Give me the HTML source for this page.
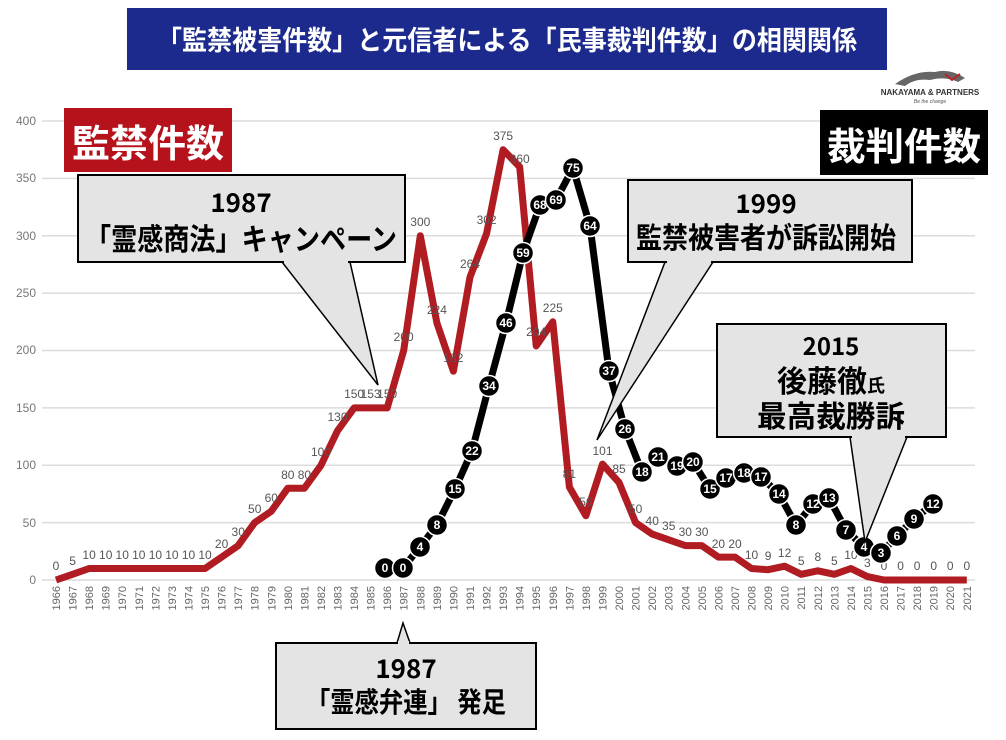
<!DOCTYPE html>
<html><head><meta charset="utf-8"><style>
html,body{margin:0;padding:0;background:#fff;}
svg{display:block;}
.t{font-family:"Liberation Sans","Noto Sans CJK JP",sans-serif;}
.j{font-family:"Noto Sans CJK JP",sans-serif;font-weight:bold;}
</style></head><body>
<svg width="1006" height="740" viewBox="0 0 1006 740" xmlns="http://www.w3.org/2000/svg">
<rect width="1006" height="740" fill="#fff"/>
<!-- title -->
<rect x="127" y="8" width="760" height="62" fill="#1b2a8c"/>
<text class="j" x="507" y="50" fill="#fff" font-size="27" text-anchor="middle" textLength="700" lengthAdjust="spacingAndGlyphs">「監禁被害件数」と元信者による「民事裁判件数」の相関関係</text>
<!-- logo -->
<path d="M895 84 Q915 70 935 72 Q950 68 965 78 L958 82 Q945 76 930 80 Q915 78 905 86 Z" fill="#666"/>
<path d="M945 74 L952 80 L960 74" stroke="#b22" stroke-width="2" fill="none"/>
<text class="t" x="930" y="95" font-size="8" fill="#333" text-anchor="middle" font-weight="bold">NAKAYAMA &amp; PARTNERS</text>
<text class="t" x="930" y="103" font-size="5" fill="#555" text-anchor="middle" font-style="italic">Be the change</text>
<!-- grid -->
<g stroke="#dcdcdc" stroke-width="1.5">
<line x1="42" y1="121" x2="975" y2="121"/><line x1="42" y1="178.4" x2="975" y2="178.4"/>
<line x1="42" y1="235.8" x2="975" y2="235.8"/><line x1="42" y1="293.1" x2="975" y2="293.1"/>
<line x1="42" y1="350.5" x2="975" y2="350.5"/><line x1="42" y1="407.9" x2="975" y2="407.9"/>
<line x1="42" y1="465.3" x2="975" y2="465.3"/><line x1="42" y1="522.6" x2="975" y2="522.6"/>
<line x1="42" y1="580" x2="975" y2="580"/>
</g>
<g class="t" font-size="12" fill="#777" text-anchor="end">
<text x="36" y="125">400</text><text x="36" y="182">350</text><text x="36" y="240">300</text>
<text x="36" y="297">250</text><text x="36" y="354">200</text><text x="36" y="412">150</text>
<text x="36" y="469">100</text><text x="36" y="527">50</text><text x="36" y="584">0</text>
</g>
<!-- x tick labels -->
<g class="t" font-size="11" fill="#666" text-anchor="end">
<text transform="translate(60,586) rotate(-90)">1966</text>
<text transform="translate(76.6,586) rotate(-90)">1967</text>
<text transform="translate(93.1,586) rotate(-90)">1968</text>
<text transform="translate(109.7,586) rotate(-90)">1969</text>
<text transform="translate(126.2,586) rotate(-90)">1970</text>
<text transform="translate(142.8,586) rotate(-90)">1971</text>
<text transform="translate(159.4,586) rotate(-90)">1972</text>
<text transform="translate(175.9,586) rotate(-90)">1973</text>
<text transform="translate(192.5,586) rotate(-90)">1974</text>
<text transform="translate(209,586) rotate(-90)">1975</text>
<text transform="translate(225.6,586) rotate(-90)">1976</text>
<text transform="translate(242.2,586) rotate(-90)">1977</text>
<text transform="translate(258.7,586) rotate(-90)">1978</text>
<text transform="translate(275.3,586) rotate(-90)">1979</text>
<text transform="translate(291.8,586) rotate(-90)">1980</text>
<text transform="translate(308.4,586) rotate(-90)">1981</text>
<text transform="translate(325,586) rotate(-90)">1982</text>
<text transform="translate(341.5,586) rotate(-90)">1983</text>
<text transform="translate(358.1,586) rotate(-90)">1984</text>
<text transform="translate(374.6,586) rotate(-90)">1985</text>
<text transform="translate(391.2,586) rotate(-90)">1986</text>
<text transform="translate(407.7,586) rotate(-90)">1987</text>
<text transform="translate(424.3,586) rotate(-90)">1988</text>
<text transform="translate(440.9,586) rotate(-90)">1989</text>
<text transform="translate(457.4,586) rotate(-90)">1990</text>
<text transform="translate(474,586) rotate(-90)">1991</text>
<text transform="translate(490.6,586) rotate(-90)">1992</text>
<text transform="translate(507.1,586) rotate(-90)">1993</text>
<text transform="translate(523.7,586) rotate(-90)">1994</text>
<text transform="translate(540.2,586) rotate(-90)">1995</text>
<text transform="translate(556.8,586) rotate(-90)">1996</text>
<text transform="translate(573.4,586) rotate(-90)">1997</text>
<text transform="translate(589.9,586) rotate(-90)">1998</text>
<text transform="translate(606.5,586) rotate(-90)">1999</text>
<text transform="translate(623,586) rotate(-90)">2000</text>
<text transform="translate(639.6,586) rotate(-90)">2001</text>
<text transform="translate(656.2,586) rotate(-90)">2002</text>
<text transform="translate(672.7,586) rotate(-90)">2003</text>
<text transform="translate(689.3,586) rotate(-90)">2004</text>
<text transform="translate(705.8,586) rotate(-90)">2005</text>
<text transform="translate(722.4,586) rotate(-90)">2006</text>
<text transform="translate(739,586) rotate(-90)">2007</text>
<text transform="translate(755.5,586) rotate(-90)">2008</text>
<text transform="translate(772.1,586) rotate(-90)">2009</text>
<text transform="translate(788.6,586) rotate(-90)">2010</text>
<text transform="translate(805.2,586) rotate(-90)">2011</text>
<text transform="translate(821.8,586) rotate(-90)">2012</text>
<text transform="translate(838.3,586) rotate(-90)">2013</text>
<text transform="translate(854.9,586) rotate(-90)">2014</text>
<text transform="translate(871.4,586) rotate(-90)">2015</text>
<text transform="translate(888,586) rotate(-90)">2016</text>
<text transform="translate(904.6,586) rotate(-90)">2017</text>
<text transform="translate(921.1,586) rotate(-90)">2018</text>
<text transform="translate(937.7,586) rotate(-90)">2019</text>
<text transform="translate(954.2,586) rotate(-90)">2020</text>
<text transform="translate(970.8,586) rotate(-90)">2021</text>
</g>
<!-- red line -->
<polyline fill="none" stroke="#b01c22" stroke-width="7" stroke-linejoin="round" points="56,580 72.6,574.3 89.1,568.5 105.7,568.5 122.2,568.5 138.8,568.5 155.4,568.5 171.9,568.5 188.5,568.5 205,568.5 221.6,557.1 238.2,545.6 254.7,522.6 271.3,511.2 287.8,488.2 304.4,488.2 321,465.3 337.5,430.8 354.1,407.9 370.6,407.9 387.2,407.9 403.7,350.5 420.3,235.8 436.9,323 453.4,371.2 470,277.1 486.6,233.5 503.1,149.7 519.7,166.9 536.2,345.9 552.8,321.8 569.4,487.1 585.9,515.7 602.5,464.1 619,482.5 635.6,522.6 652.2,534.1 668.7,539.8 685.3,545.6 701.8,545.6 718.4,557.1 735,557.1 751.5,568.5 768.1,569.7 784.6,566.2 801.2,574.3 817.8,570.8 834.3,574.3 850.9,568.5 867.4,576.6 884,580 900.6,580 917.1,580 933.7,580 950.2,580 966.8,580"/>
<g class="t" font-size="12" fill="#555" text-anchor="middle">
<text x="56" y="570">0</text><text x="72.6" y="565">5</text><text x="89.1" y="559">10</text><text x="105.7" y="559">10</text><text x="122.2" y="559">10</text><text x="138.8" y="559">10</text><text x="155.4" y="559">10</text><text x="171.9" y="559">10</text><text x="188.5" y="559">10</text><text x="205" y="559">10</text><text x="221.6" y="548">20</text><text x="238.2" y="536">30</text><text x="254.7" y="513">50</text><text x="271.3" y="502">60</text><text x="287.8" y="479">80</text><text x="304.4" y="479">80</text><text x="321" y="456">100</text><text x="337.5" y="421">130</text><text x="354.1" y="398">150</text><text x="370.6" y="398">153</text><text x="387.2" y="398">150</text><text x="403.7" y="341">200</text><text x="420.3" y="226">300</text><text x="436.9" y="314">224</text><text x="453.4" y="362">182</text><text x="470" y="268">264</text><text x="486.6" y="224">302</text><text x="503.1" y="140">375</text><text x="519.7" y="163">360</text><text x="536.2" y="336">204</text><text x="552.8" y="312">225</text><text x="569.4" y="478">81</text><text x="585.9" y="506">56</text><text x="602.5" y="455">101</text><text x="619" y="473">85</text><text x="635.6" y="513">50</text><text x="652.2" y="525">40</text><text x="668.7" y="530">35</text><text x="685.3" y="536">30</text><text x="701.8" y="536">30</text><text x="718.4" y="548">20</text><text x="735" y="548">20</text><text x="751.5" y="559">10</text><text x="768.1" y="560">9</text><text x="784.6" y="557">12</text><text x="801.2" y="565">5</text><text x="817.8" y="561">8</text><text x="834.3" y="565">5</text><text x="850.9" y="559">10</text><text x="867.4" y="567">3</text><text x="884" y="570">0</text><text x="900.6" y="570">0</text><text x="917.1" y="570">0</text><text x="933.7" y="570">0</text><text x="950.2" y="570">0</text><text x="966.8" y="570">0</text>
</g>
<!-- black line -->
<polyline fill="none" stroke="#000" stroke-width="7" stroke-linejoin="round" points="385,568 403,568 420,547 437,525 455,489 472,451 489,386 506,323 523,253 540,205 556,200 573,168 590,226 609,371 625,429 642,472 658,457 677,466 693,462 710,489 726,478 744,473 761,477 779,494 796,525 813,504 829,498 846,530 864,547 881,553 897,536 914,519 933,504"/>
<g fill="#000" stroke="#fff" stroke-width="1.5">
<circle cx="385" cy="568" r="10.5"/><circle cx="403" cy="568" r="10.5"/><circle cx="420" cy="547" r="10.5"/><circle cx="437" cy="525" r="10.5"/><circle cx="455" cy="489" r="10.5"/><circle cx="472" cy="451" r="10.5"/><circle cx="489" cy="386" r="10.5"/><circle cx="506" cy="323" r="10.5"/><circle cx="523" cy="253" r="10.5"/><circle cx="540" cy="205" r="10.5"/><circle cx="556" cy="200" r="10.5"/><circle cx="573" cy="168" r="10.5"/><circle cx="590" cy="226" r="10.5"/><circle cx="609" cy="371" r="10.5"/><circle cx="625" cy="429" r="10.5"/><circle cx="642" cy="472" r="10.5"/><circle cx="658" cy="457" r="10.5"/><circle cx="677" cy="466" r="10.5"/><circle cx="693" cy="462" r="10.5"/><circle cx="710" cy="489" r="10.5"/><circle cx="726" cy="478" r="10.5"/><circle cx="744" cy="473" r="10.5"/><circle cx="761" cy="477" r="10.5"/><circle cx="779" cy="494" r="10.5"/><circle cx="796" cy="525" r="10.5"/><circle cx="813" cy="504" r="10.5"/><circle cx="829" cy="498" r="10.5"/><circle cx="846" cy="530" r="10.5"/><circle cx="864" cy="547" r="10.5"/><circle cx="881" cy="553" r="10.5"/><circle cx="897" cy="536" r="10.5"/><circle cx="914" cy="519" r="10.5"/><circle cx="933" cy="504" r="10.5"/>
</g>
<g class="t" font-size="12" font-weight="bold" fill="#fff" text-anchor="middle">
<text x="385" y="572">0</text><text x="403" y="572">0</text><text x="420" y="551">4</text><text x="437" y="529">8</text><text x="455" y="493">15</text><text x="472" y="455">22</text><text x="489" y="390">34</text><text x="506" y="327">46</text><text x="523" y="257">59</text><text x="540" y="209">68</text><text x="556" y="204">69</text><text x="573" y="172">75</text><text x="590" y="230">64</text><text x="609" y="375">37</text><text x="625" y="433">26</text><text x="642" y="476">18</text><text x="658" y="461">21</text><text x="677" y="470">19</text><text x="693" y="466">20</text><text x="710" y="493">15</text><text x="726" y="482">17</text><text x="744" y="477">18</text><text x="761" y="481">17</text><text x="779" y="498">14</text><text x="796" y="529">8</text><text x="813" y="508">12</text><text x="829" y="502">13</text><text x="846" y="534">7</text><text x="864" y="551">4</text><text x="881" y="557">3</text><text x="897" y="540">6</text><text x="914" y="523">9</text><text x="933" y="508">12</text>
</g>
<!-- legend boxes -->
<rect x="64" y="108" width="168" height="64" fill="#b5121b"/>
<text class="j" x="148" y="157" fill="#fff" font-size="38" text-anchor="middle" textLength="152" lengthAdjust="spacingAndGlyphs">監禁件数</text>
<rect x="820" y="110" width="168" height="65" fill="#000"/>
<text class="j" x="904" y="160" fill="#fff" font-size="38" text-anchor="middle" textLength="154" lengthAdjust="spacingAndGlyphs">裁判件数</text>
<!-- callout 1 -->
<polygon points="282,262 350,262 378,385" fill="#e4e4e4" stroke="#000" stroke-width="1.5"/>
<rect x="78" y="175" width="327" height="87" fill="#e4e4e4" stroke="#000" stroke-width="2"/>
<rect x="284" y="259" width="64" height="4" fill="#e4e4e4"/>
<text class="j" x="241" y="212" font-size="26" text-anchor="middle">1987</text>
<text class="j" x="241" y="250" font-size="30" text-anchor="middle" textLength="312" lengthAdjust="spacingAndGlyphs">「霊感商法」キャンペーン</text>
<!-- callout 2 -->
<polygon points="665,262 713,262 597,440" fill="#e4e4e4" stroke="#000" stroke-width="1.5"/>
<rect x="628" y="180" width="284" height="82" fill="#e4e4e4" stroke="#000" stroke-width="2"/>
<rect x="667" y="259" width="44" height="4" fill="#e4e4e4"/>
<text class="j" x="766" y="213" font-size="26" text-anchor="middle">1999</text>
<text class="j" x="766" y="248" font-size="29" text-anchor="middle" textLength="260" lengthAdjust="spacingAndGlyphs">監禁被害者が訴訟開始</text>
<!-- callout 3 -->
<polygon points="850,437 907,437 865,542" fill="#e4e4e4" stroke="#000" stroke-width="1.5"/>
<rect x="717" y="324" width="229" height="113" fill="#e4e4e4" stroke="#000" stroke-width="2"/>
<rect x="852" y="434" width="53" height="4" fill="#e4e4e4"/>
<text class="j" x="831" y="355" font-size="24" text-anchor="middle">2015</text>
<text class="j" x="831" y="392" font-size="30" text-anchor="middle"><tspan>後藤徹</tspan><tspan font-size="18">氏</tspan></text>
<text class="j" x="831" y="427" font-size="30" text-anchor="middle" textLength="148" lengthAdjust="spacingAndGlyphs">最高裁勝訴</text>
<!-- callout 4 -->
<polygon points="397,643 410,643 403,623" fill="#e4e4e4" stroke="#000" stroke-width="1.5"/>
<rect x="276" y="643" width="260" height="86" fill="#e4e4e4" stroke="#000" stroke-width="2"/>
<rect x="398" y="641" width="11" height="4" fill="#e4e4e4"/>
<text class="j" x="406" y="678" font-size="26" text-anchor="middle">1987</text>
<text class="j" x="406" y="712" font-size="28" text-anchor="middle" textLength="200" lengthAdjust="spacingAndGlyphs">「霊感弁連」 発足</text>
</svg>
</body></html>
